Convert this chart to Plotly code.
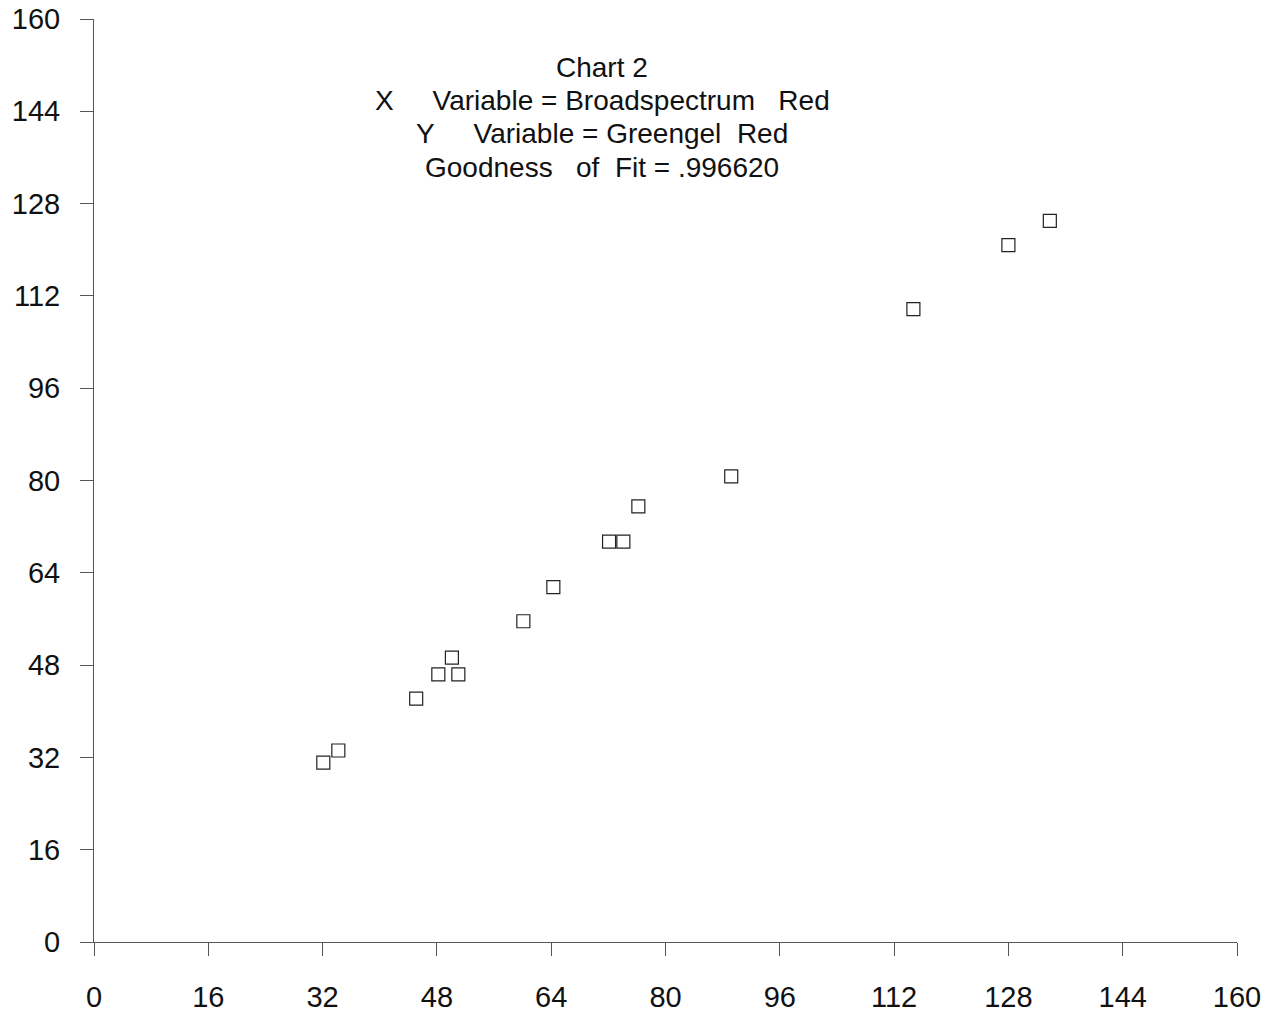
import plotly.graph_objects as go

# Data
broadspectrum_red = [32.1, 34.2, 45.1, 48.2, 50.1, 51.0, 60.1, 64.3, 72.1, 74.1, 76.2, 89.2, 114.7, 128.0, 133.8]
greengel_red = [31.1, 33.2, 42.2, 46.4, 49.3, 46.4, 55.6, 61.5, 69.4, 69.4, 75.5, 80.7, 109.7, 120.8, 125.0]

tick_vals = [0, 16, 32, 48, 64, 80, 96, 112, 128, 144, 160]
S = "\u00a0"
title_lines = [
    "Chart" + S + "2",
    "X" + S * 5 + "Variable" + S + "=" + S + "Broadspectrum" + S * 3 + "Red",
    "Y" + S * 5 + "Variable" + S + "=" + S + "Greengel" + S * 2 + "Red",
    "Goodness" + S * 3 + "of" + S * 2 + "Fit" + S + "=" + S + ".996620",
]

FONT = "Liberation Sans, Arial, Helvetica, sans-serif"

fig = go.Figure()
fig.add_trace(go.Scatter(
    x=broadspectrum_red, y=greengel_red, mode="markers",
    marker=dict(symbol="square-open", size=13, color="#222222", line=dict(width=1.2, color="#222222")),
    showlegend=False, hoverinfo="x+y",
))

axis_common = dict(
    range=[0, 160], tickmode="array", tickvals=tick_vals, automargin=False,
    showgrid=False, zeroline=False, showline=True, linecolor="#555555", linewidth=1,
    ticks="outside", ticklen=13, tickcolor="#555555", tickwidth=1,
    tickfont=dict(family=FONT, size=29, color="#111111"),
)

fig.update_layout(
    width=1285, height=1013,
    margin=dict(l=94, r=48, t=19, b=71),
    paper_bgcolor="white", plot_bgcolor="white",
    xaxis=dict(**axis_common, ticklabelstandoff=16),
    yaxis=dict(**axis_common, ticklabelstandoff=14),
)

y_pixels = [67, 100, 133, 167]
for line, yp in zip(title_lines, y_pixels):
    fig.add_annotation(
        text=line, xref="paper", yref="paper",
        x=(602 - 94) / 1143, y=(942 - yp) / 923,
        xanchor="center", yanchor="middle", showarrow=False,
        font=dict(family=FONT, size=28, color="#111111"),
    )

fig.write_html("out.html")
